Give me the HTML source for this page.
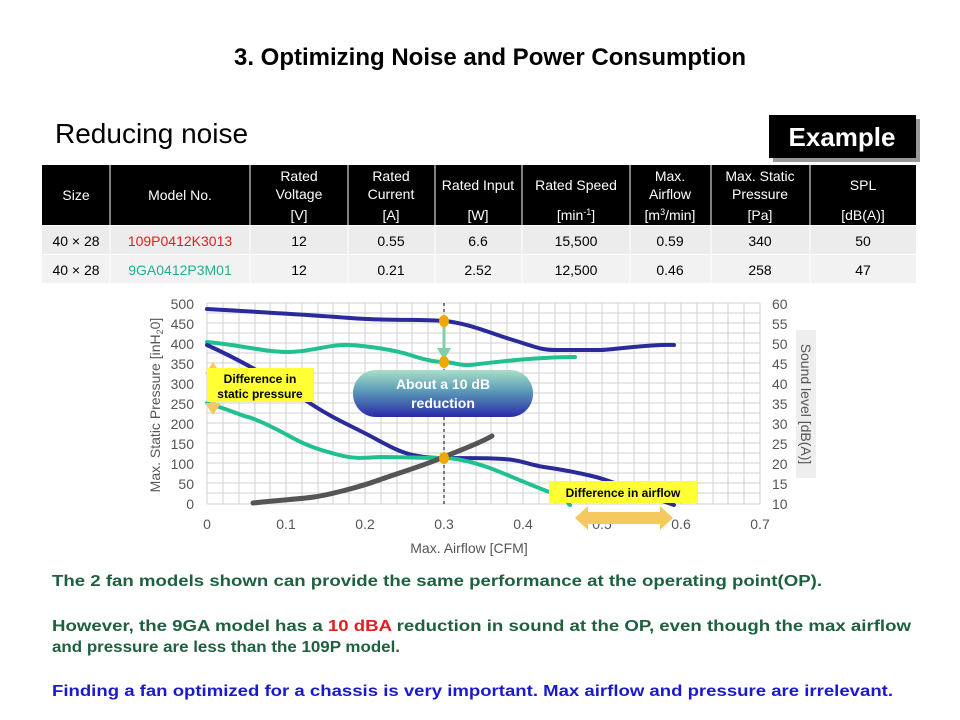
<!DOCTYPE html>
<html><head><meta charset="utf-8"><style>
body{margin:0;background:#fff}
svg{display:block;font-family:"Liberation Sans",sans-serif}
</style></head><body>
<svg width="960" height="720" viewBox="0 0 960 720" xmlns="http://www.w3.org/2000/svg">
<defs>
<linearGradient id="pill" x1="0" y1="0" x2="0" y2="1">
<stop offset="0" stop-color="#a8e0c8"/><stop offset="0.45" stop-color="#5a9ab8"/><stop offset="1" stop-color="#2a2aa8"/>
</linearGradient>
<filter id="sh"><feGaussianBlur stdDeviation="1.2"/></filter>
</defs>
<text x="490" y="65" font-size="24" font-weight="bold" text-anchor="middle">3. Optimizing Noise and Power Consumption</text>
<text x="55" y="143" font-size="28">Reducing noise</text>
<rect x="773" y="119" width="147" height="43" fill="#999"/>
<rect x="769" y="115" width="147" height="43" fill="#000"/>
<text x="842" y="146" font-size="26" font-weight="bold" fill="#fff" text-anchor="middle">Example</text>

<!-- table -->
<rect x="42" y="165" width="874" height="60" fill="#000"/>
<g stroke="#fff" stroke-width="1">
<line x1="110" y1="165" x2="110" y2="283"/><line x1="250" y1="165" x2="250" y2="283"/><line x1="348" y1="165" x2="348" y2="283"/><line x1="435" y1="165" x2="435" y2="283"/><line x1="522" y1="165" x2="522" y2="283"/><line x1="630" y1="165" x2="630" y2="283"/><line x1="711" y1="165" x2="711" y2="283"/><line x1="810" y1="165" x2="810" y2="283"/>
</g>
<rect x="42" y="226" width="874" height="28" fill="#ececec"/>
<rect x="42" y="255" width="874" height="28" fill="#f2f2f2"/>
<g stroke="#fff"><line x1="110" y1="226" x2="110" y2="283"/><line x1="250" y1="226" x2="250" y2="283"/><line x1="348" y1="226" x2="348" y2="283"/><line x1="435" y1="226" x2="435" y2="283"/><line x1="522" y1="226" x2="522" y2="283"/><line x1="630" y1="226" x2="630" y2="283"/><line x1="711" y1="226" x2="711" y2="283"/><line x1="810" y1="226" x2="810" y2="283"/></g>
<g font-size="14" fill="#fff" text-anchor="middle">
<text x="76" y="200">Size</text><text x="180" y="200">Model No.</text>
<text x="299" y="181">Rated</text><text x="299" y="199">Voltage</text><text x="299" y="220">[V]</text>
<text x="391" y="181">Rated</text><text x="391" y="199">Current</text><text x="391" y="220">[A]</text>
<text x="478" y="190">Rated Input</text><text x="478" y="220">[W]</text>
<text x="576" y="190">Rated Speed</text><text x="576" y="220">[min<tspan font-size="9" dy="-5">-1</tspan><tspan dy="5">]</tspan></text>
<text x="670" y="181">Max.</text><text x="670" y="199">Airflow</text><text x="670" y="220">[m<tspan font-size="9" dy="-5">3</tspan><tspan dy="5">/min]</tspan></text>
<text x="760" y="181">Max. Static</text><text x="760" y="199">Pressure</text><text x="760" y="220">[Pa]</text>
<text x="863" y="190">SPL</text><text x="863" y="220">[dB(A)]</text>
</g>
<g font-size="14" fill="#000" text-anchor="middle">
<text x="76" y="246">40 × 28</text><text x="180" y="246" fill="#e02020">109P0412K3013</text><text x="299" y="246">12</text><text x="391" y="246">0.55</text><text x="478" y="246">6.6</text><text x="576" y="246">15,500</text><text x="670" y="246">0.59</text><text x="760" y="246">340</text><text x="863" y="246">50</text>
<text x="76" y="275">40 × 28</text><text x="180" y="275" fill="#20b090">9GA0412P3M01</text><text x="299" y="275">12</text><text x="391" y="275">0.21</text><text x="478" y="275">2.52</text><text x="576" y="275">12,500</text><text x="670" y="275">0.46</text><text x="760" y="275">258</text><text x="863" y="275">47</text>
</g>

<!-- chart grid -->
<g stroke="#d0d0d0" stroke-width="1">
<path d="M207 303H760M207 313H760M207 323H760M207 333H760M207 343H760M207 353H760M207 363H760M207 373H760M207 383H760M207 393H760M207 403H760M207 413H760M207 423H760M207 433H760M207 443H760M207 453H760M207 463H760M207 473H760M207 483H760M207 493H760M207 504H760"/>
<path d="M207 303V504M223 303V504M239 303V504M255 303V504M270 303V504M286 303V504M302 303V504M318 303V504M333 303V504M349 303V504M365 303V504M381 303V504M397 303V504M412 303V504M428 303V504M444 303V504M460 303V504M476 303V504M491 303V504M507 303V504M523 303V504M539 303V504M555 303V504M570 303V504M586 303V504M602 303V504M618 303V504M634 303V504M649 303V504M665 303V504M681 303V504M697 303V504M713 303V504M728 303V504M744 303V504M760 303V504"/>
</g>
<line x1="444" y1="303" x2="444" y2="504" stroke="#000" stroke-dasharray="3,3"/>
<g font-size="14" fill="#555" text-anchor="end">
<text x="194" y="309">500</text><text x="194" y="329">450</text><text x="194" y="349">400</text><text x="194" y="369">350</text><text x="194" y="389">300</text><text x="194" y="409">250</text><text x="194" y="429">200</text><text x="194" y="449">150</text><text x="194" y="469">100</text><text x="194" y="489">50</text><text x="194" y="509">0</text>
</g>
<g font-size="14" fill="#555">
<text x="772" y="309">60</text><text x="772" y="329">55</text><text x="772" y="349">50</text><text x="772" y="369">45</text><text x="772" y="389">40</text><text x="772" y="409">35</text><text x="772" y="429">30</text><text x="772" y="449">25</text><text x="772" y="469">20</text><text x="772" y="489">15</text><text x="772" y="509">10</text>
</g>
<g font-size="14" fill="#555" text-anchor="middle">
<text x="207" y="529">0</text><text x="286" y="529">0.1</text><text x="365" y="529">0.2</text><text x="444" y="529">0.3</text><text x="523" y="529">0.4</text><text x="602" y="529">0.5</text><text x="681" y="529">0.6</text><text x="760" y="529">0.7</text>
<text x="469" y="553">Max. Airflow [CFM]</text>
</g>
<text transform="translate(160,405) rotate(-90)" font-size="14" fill="#555" text-anchor="middle">Max. Static Pressure [inH<tspan font-size="9" dy="3">2</tspan><tspan dy="-3">0]</tspan></text>
<rect x="796" y="330" width="20" height="148" fill="#eee"/>
<text transform="translate(801,404) rotate(90)" font-size="14" fill="#555" text-anchor="middle">Sound level  [dB(A)]</text>

<!-- curves -->
<g fill="none" stroke-width="4" stroke-linecap="round">
<path d="M207 309 C260 312,313 315,350 318 S420 319,444 321 S490 333,513 340 S540 350,557 350 S590 350,600 350 S650 344,674 345" stroke="#2a2a9a"/>
<path d="M207 342 C240 345,265 352,288 352 S330 344,349 345 S395 350,410 355 S435 362,444 362 S460 366,470 365 S530 357,575 357" stroke="#20c090"/>
<path d="M207 345 C240 360,275 380,305 400 S350 425,374 438 S410 458,444 458 S500 458,513 460 S530 465,544 467 S580 473,596 477 S650 497,674 505" stroke="#2a2a9a"/>
<path d="M207 403 C230 410,240 415,248 417 S275 428,291 437 S320 450,339 455 S370 457,382 457 S430 458,444 458 S475 463,487 467 S530 485,552 493 S565 502,570 505" stroke="#20c090"/>
<path d="M253 503 C280 500,300 499,314 497 S360 487,379 480 S420 467,444 457 S480 443,492 436" stroke="#555" stroke-width="5"/>
</g>
<line x1="444" y1="323" x2="444" y2="350" stroke="#7fd0a8" stroke-width="3"/>
<polygon points="437,348 451,348 444,360" fill="#7fd0a8"/>
<g fill="#f0a800"><ellipse cx="444" cy="321" rx="5" ry="6"/><ellipse cx="444" cy="362" rx="5" ry="6"/><ellipse cx="444" cy="458" rx="5" ry="6"/></g>

<!-- annotations -->
<rect x="353" y="370" width="180" height="47" rx="23" fill="url(#pill)"/>
<text x="443" y="389" font-size="14" font-weight="bold" fill="#fff" text-anchor="middle">About a 10 dB</text>
<text x="443" y="408" font-size="14" font-weight="bold" fill="#fff" text-anchor="middle">reduction</text>
<path d="M213 362 L221 374 L216 374 L216 403 L221 403 L213 415 L205 403 L210 403 L210 374 L205 374 Z" fill="#f5c860"/>
<rect x="207" y="368" width="107" height="34" fill="#ffff33"/>
<text x="260" y="383" font-size="12" font-weight="bold" text-anchor="middle">Difference in</text>
<text x="260" y="398" font-size="12" font-weight="bold" text-anchor="middle">static pressure</text>
<rect x="549" y="481" width="148" height="22" fill="#ffff33"/>
<text x="623" y="497" font-size="12" font-weight="bold" text-anchor="middle">Difference in airflow</text>
<path d="M575 518 L588 506 L588 512 L660 512 L660 506 L673 518 L660 530 L660 524 L588 524 L588 530 Z" fill="#f5c860"/>

<!-- bottom text -->
<g font-size="16" font-weight="bold" fill="#1e6040">
<text x="52" y="586" textLength="770" lengthAdjust="spacingAndGlyphs">The 2 fan models shown can provide the same performance at the operating point(OP).</text>
<text x="52" y="631" textLength="859" lengthAdjust="spacingAndGlyphs">However, the 9GA model has a <tspan fill="#e02020">10 dBA</tspan> reduction in sound at the OP, even though the max airflow</text>
<text x="52" y="652" textLength="348" lengthAdjust="spacingAndGlyphs">and pressure are less than the 109P model.</text>
<text x="52" y="696" fill="#1a1acc" textLength="841" lengthAdjust="spacingAndGlyphs">Finding a fan optimized for a chassis is very important. Max airflow and pressure are irrelevant.</text>
</g>
</svg>
</body></html>
